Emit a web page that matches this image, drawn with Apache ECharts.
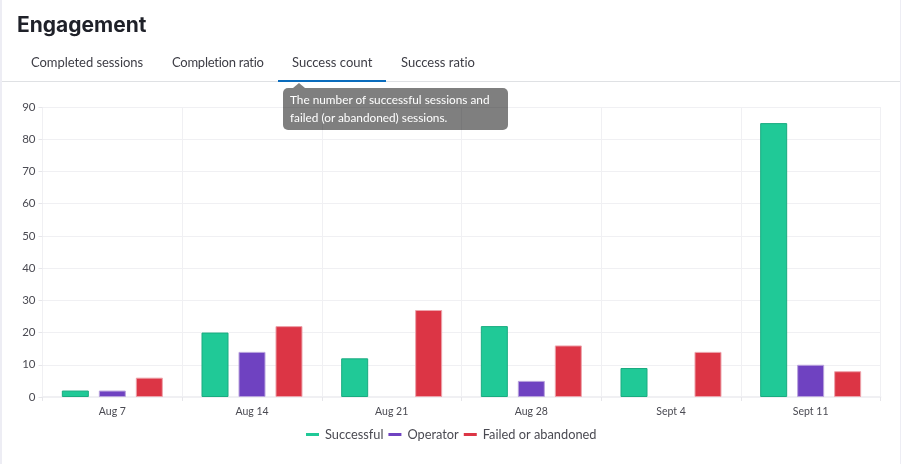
<!DOCTYPE html>
<html>
<head>
<meta charset="utf-8">
<title>Engagement</title>
<script src="https://cdn.jsdelivr.net/npm/echarts@6/dist/echarts.min.js"></script>
<style>
html, body { margin: 0; padding: 0; background: #fff; }
#page { position: relative; width: 901px; height: 464px; overflow: hidden; font-family: Lato, "Open Sans", sans-serif; font-variant-ligatures: none; color: #3d3d45; }
#edgeL { position: absolute; left: 0; top: 0; width: 2px; height: 464px; background: #ededf4; }
#edgeR { position: absolute; left: 900px; top: 0; width: 1px; height: 464px; background: #ededf4; }
#main { position: absolute; left: 0; top: 0; width: 901px; height: 464px; }
h1 { position: absolute; left: 17px; top: 11px; margin: 0; font-family: Inter, Lato, sans-serif; font-size: 21px; line-height: 28px; font-weight: 700; color: #1f2129; }
#rule { position: absolute; left: 2px; top: 81px; width: 898px; height: 1px; background: #dfe1e4; }
.tab { position: absolute; top: 53px; font-size: 13px; line-height: 18px; white-space: nowrap; }
#under { position: absolute; left: 278px; top: 80px; width: 108px; height: 2px; background: #0a6cbd; }
#tip { position: absolute; left: 283px; top: 88px; width: 225px; height: 42px; box-sizing: border-box; padding: 3px 7px; border-radius: 5px; background: rgba(0,0,0,.5); color: #fff; font-size: 11.8px; line-height: 18px; }
#tip:before { content: ""; position: absolute; left: 10px; top: -5px; border-left: 6px solid transparent; border-right: 6px solid transparent; border-bottom: 5px solid rgba(0,0,0,.5); }
</style>
</head>
<body>
<div id="page">
	<div id="main"></div>
	<div id="edgeL"></div>
	<div id="edgeR"></div>
	<h1>Engagement</h1>
	<div class="tab" style="left:31px;letter-spacing:-0.05px">Completed sessions</div>
	<div class="tab" style="left:172px;letter-spacing:-0.25px">Completion ratio</div>
	<div class="tab" style="left:292px">Success count</div>
	<div class="tab" style="left:401px">Success ratio</div>
	<div id="rule"></div>
	<div id="under"></div>
	<div id="tip">The number of successful sessions and<br>failed (or abandoned) sessions.</div>
</div>
<script>
var weeks = ['Aug 7', 'Aug 14', 'Aug 21', 'Aug 28', 'Sept 4', 'Sept 11'];
// null = nothing drawn for that week
var successful = [2, 20, 12, 22, 9, 85];
var operator = [2, 14, null, 5, null, 10];
var failed = [6, 22, 27, 16, 14, 8];

var fontName = 'Lato, "Open Sans", sans-serif';
var gridColor = '#f0f0f3';

function barSeries(name, values, color, edge) {
	return {
		name: name,
		type: 'bar',
		data: values,
		barWidth: 27,
		barGap: '37%',
		itemStyle: { color: color, borderColor: edge, borderWidth: 1 }
	};
}

var chart = echarts.init(document.getElementById('main'), null, { renderer: 'canvas' });
chart.setOption({
	animation: false,
	textStyle: { fontFamily: fontName },
	grid: { left: 42.5, right: 20.5, top: 107, bottom: 67, containLabel: false },
	legend: {
		top: 423,
		left: 301,
		itemWidth: 13,
		itemHeight: 3,
		itemGap: 5,
		icon: 'rect',
		itemStyle: { borderWidth: 0 },
		textStyle: { fontSize: 12.8, color: '#4a4a52', fontFamily: fontName, padding: [0, 0, 0, 1] },
		data: ['Successful', 'Operator', 'Failed or abandoned']
	},
	xAxis: {
		type: 'category',
		data: weeks,
		axisLine: { lineStyle: { color: gridColor, width: 2 } },
		axisTick: { show: true, length: 4, lineStyle: { color: '#e6e6ea' } },
		axisLabel: { fontSize: 10.5, color: '#4a4a52', margin: 9 },
		splitLine: { show: true, lineStyle: { color: gridColor } }
	},
	yAxis: {
		type: 'value',
		min: 0,
		max: 90,
		interval: 10,
		axisLine: { show: false },
		axisTick: { show: true, length: 4, lineStyle: { color: '#e6e6ea' } },
		axisLabel: { fontSize: 11.5, color: '#4a4a52', margin: 7 },
		splitLine: { lineStyle: { color: gridColor } }
	},
	series: [
		barSeries('Successful', successful, '#20c997', '#1aab80'),
		barSeries('Operator', operator, '#6f42c1', '#b9a3dd'),
		barSeries('Failed or abandoned', failed, '#dc3545', '#eda3ab')
	]
});
</script>
</body>
</html>
